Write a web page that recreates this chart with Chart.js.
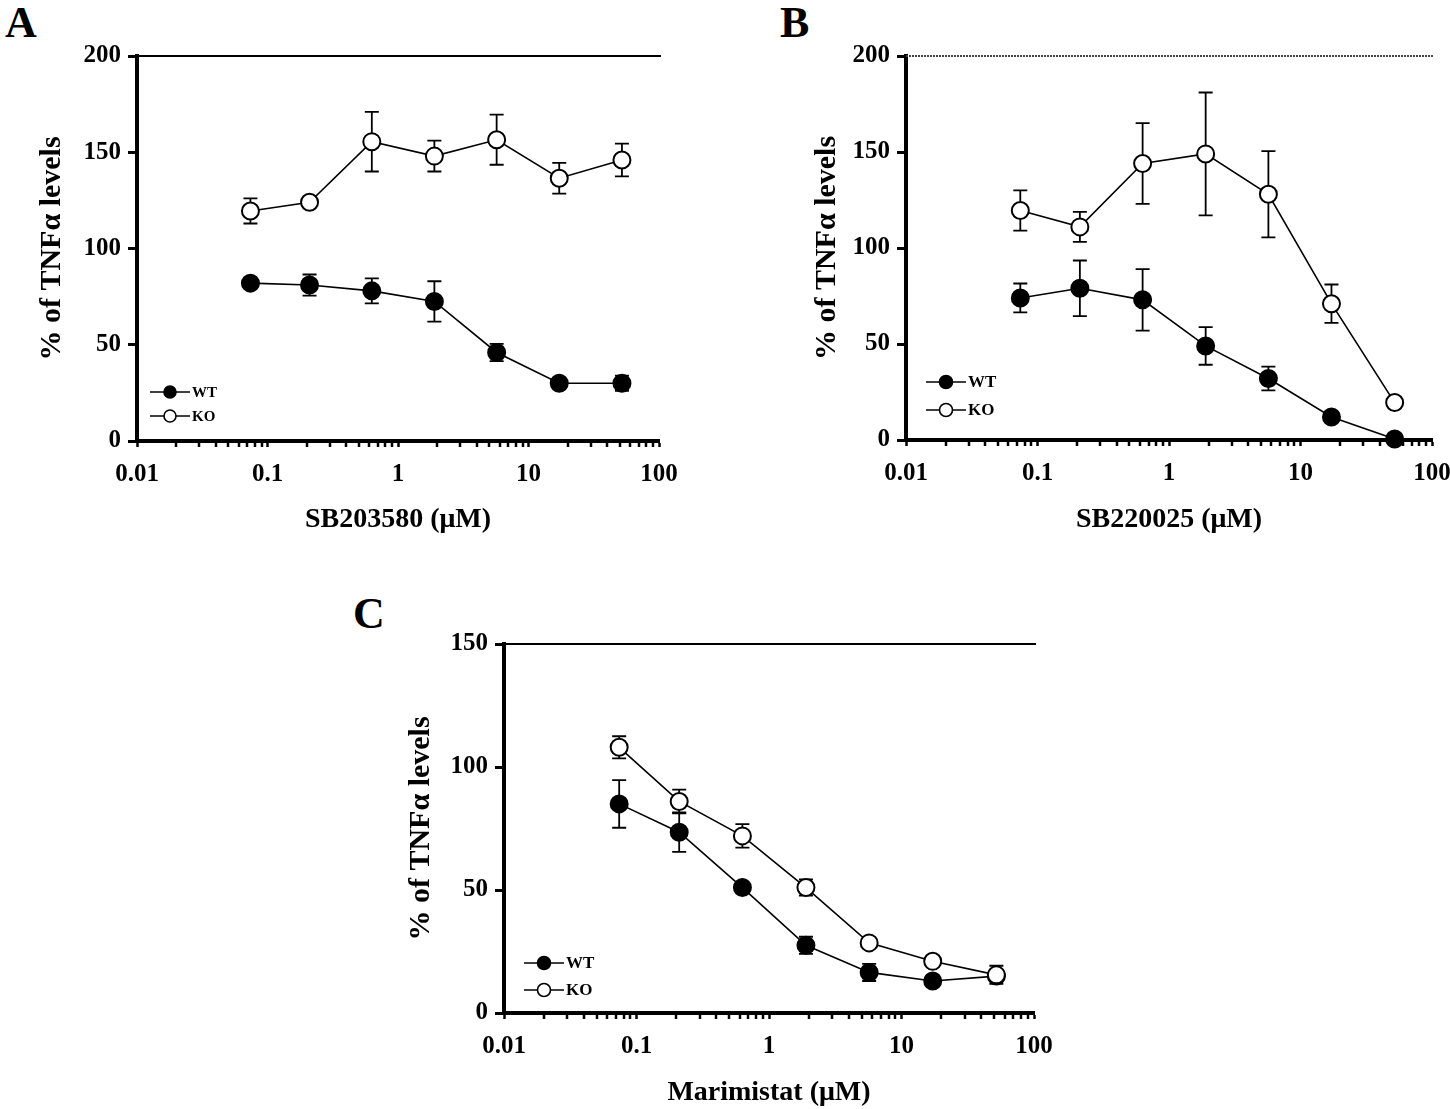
<!DOCTYPE html>
<html>
<head>
<meta charset="utf-8">
<script src="https://cdn.jsdelivr.net/npm/chart.js@4.4.1/dist/chart.umd.min.js"></script>
<style>
  html, body { margin: 0; padding: 0; background: #fff; }
  body { width: 1450px; height: 1109px; position: relative; overflow: hidden; }
  canvas { position: absolute; }
  .letter { position: absolute; font: bold 44px "Liberation Serif", serif; line-height: 1; }
</style>
</head>
<body>
<div class="letter" style="left:5px;top:1px">A</div>
<div class="letter" style="left:780px;top:1px">B</div>
<div class="letter" style="left:353px;top:592px">C</div>
<canvas id="panel-a"></canvas>
<canvas id="panel-b"></canvas>
<canvas id="panel-c"></canvas>
<script>
/* global Chart */

// Inhibitor doses (µM), same dilution series in all three panels.
const DOSES = [0.074, 0.21, 0.63, 1.9, 5.7, 17.2, 52];

const X_TICKS = [0.01, 0.1, 1, 10, 100];
const Y_TICKS_AB = [0, 50, 100, 150, 200];
const Y_TICKS_C = [0, 50, 100, 150];

// Panel A: SB203580
const WT_A = [82, 81, 78, 72.5, 46, 30, 30];
const WT_A_ERR = [2, 5.5, 6.5, 10.5, 4.5, 2, 4];
const KO_A = [119.5, 124, 155.5, 148, 156.5, 136.5, 146];
const KO_A_ERR = [6.5, 2, 15.5, 8, 13, 8, 8.5];

// Panel B: SB220025
const WT_B = [74, 79, 73, 49, 32, 12, 0.5];
const WT_B_ERR = [7.5, 14.5, 16, 9.8, 6.2, 1.5, 0];
const KO_B = [119.5, 111, 144, 149, 128, 71, 19.5];
const KO_B_ERR = [10.5, 7.8, 21, 32, 22.5, 10, 1.5];

// Panel C: Marimistat
const WT_C = [85, 73.5, 51, 27.5, 16.5, 13, 15];
const WT_C_ERR = [9.7, 8, 1.5, 3.5, 3.5, 1.5, 2];
const KO_C = [108, 86, 72, 51, 28.5, 21, 15.5];
const KO_C_ERR = [4.5, 4.8, 4.8, 3.3, 1.5, 1.5, 3.7];

const SERIF = '"Liberation Serif", "Times New Roman", serif';
const TICK_SIZE = 25;
const X_TITLE_SIZE = 28;
const Y_TITLE_SIZE = 30;
const CAP = 7;

function toPoints(values) {
  return DOSES.map((dose, i) => ({ x: dose, y: values[i] }));
}

// Error bars go under the markers, like the original figure.
const errorBars = {
  id: "errorBars",
  beforeDatasetsDraw(chart) {
    const { ctx } = chart;
    const xs = chart.scales.x;
    const ys = chart.scales.y;
    ctx.save();
    ctx.strokeStyle = "#000";
    ctx.lineWidth = 1.8;
    chart.data.datasets.forEach((ds) => {
      ds.data.forEach((pt, i) => {
        const err = ds.errors[i];
        if (!err) return;
        const px = xs.getPixelForValue(pt.x);
        const top = ys.getPixelForValue(pt.y + err);
        const bot = ys.getPixelForValue(pt.y - err);
        ctx.beginPath();
        ctx.moveTo(px, top);
        ctx.lineTo(px, bot);
        ctx.moveTo(px - CAP, top);
        ctx.lineTo(px + CAP, top);
        ctx.moveTo(px - CAP, bot);
        ctx.lineTo(px + CAP, bot);
        ctx.stroke();
      });
    });
    ctx.restore();
  },
};

// Top reference line at the y max and the minor log ticks under the x axis.
const axisExtras = {
  id: "axisExtras",
  afterDraw(chart, args, opts) {
    const { ctx, chartArea } = chart;
    const xs = chart.scales.x;
    const ys = chart.scales.y;
    ctx.save();
    ctx.strokeStyle = opts.topColor || "#000";
    ctx.lineWidth = 2;
    if (opts.topDash) ctx.setLineDash(opts.topDash);
    const yTop = ys.getPixelForValue(ys.max);
    ctx.beginPath();
    ctx.moveTo(chartArea.left, yTop);
    ctx.lineTo(chartArea.right + 2, yTop);
    ctx.stroke();
    ctx.setLineDash([]);

    ctx.strokeStyle = "#000";
    ctx.lineWidth = 2.5;
    ctx.beginPath();
    X_TICKS.slice(0, -1).forEach((decade) => {
      for (let k = 2; k <= 9; k++) {
        const px = Math.round(xs.getPixelForValue(k * decade));
        ctx.moveTo(px, chartArea.bottom);
        ctx.lineTo(px, chartArea.bottom + 6);
      }
    });
    ctx.stroke();
    ctx.restore();
  },
};

// Small in-plot key: line through a marker, then the label.
const keyLegend = {
  id: "keyLegend",
  afterDraw(chart, args, opts) {
    const { ctx, chartArea } = chart;
    ctx.save();
    ctx.font = `bold ${opts.fontSize}px ${SERIF}`;
    ctx.textBaseline = "middle";
    ctx.fillStyle = "#000";
    opts.items.forEach((item) => {
      const x0 = chartArea.left + opts.x0;
      const x1 = x0 + opts.len;
      const y = chartArea.bottom - item.dy;
      const cx = (x0 + x1) / 2;
      ctx.strokeStyle = "#000";
      ctx.lineWidth = 1.6;
      ctx.beginPath();
      ctx.moveTo(x0, y);
      ctx.lineTo(x1, y);
      ctx.stroke();
      ctx.beginPath();
      ctx.arc(cx, y, opts.r, 0, Math.PI * 2);
      ctx.fillStyle = item.fill;
      ctx.fill();
      ctx.lineWidth = 1.6;
      ctx.stroke();
      ctx.fillStyle = "#000";
      ctx.fillText(item.label, x1 + 2, y + 1);
    });
    ctx.restore();
  },
};

function makePanel(id, cfg) {
  const canvas = document.getElementById(id);
  const { box, area } = cfg;
  canvas.width = box.w;
  canvas.height = box.h;
  canvas.style.left = box.x + "px";
  canvas.style.top = box.y + "px";
  canvas.style.width = box.w + "px";
  canvas.style.height = box.h + "px";

  const xTitleLH = X_TITLE_SIZE * 1.2;
  const yTitleLH = Y_TITLE_SIZE * 1.2;
  const padding = {
    left: cfg.yTitleX - box.x - yTitleLH / 2,
    top: area.top - box.y,
    right: box.x + box.w - area.right,
    bottom: box.y + box.h - (cfg.xTitleY + xTitleLH / 2),
  };
  const yWidth = area.left - box.x - padding.left;
  const xHeight = cfg.xTitleY + xTitleLH / 2 - area.bottom;

  const lineStyle = {
    showLine: true,
    borderColor: "#000",
    borderWidth: 1.6,
    tension: 0,
    pointRadius: 8.5,
    pointHoverRadius: 8.5,
    pointBorderWidth: 2,
    pointBorderColor: "#000",
    clip: false,
  };

  return new Chart(canvas, {
    type: "scatter",
    data: {
      datasets: [
        { ...lineStyle, label: "KO", data: toPoints(cfg.ko), errors: cfg.koErr, pointBackgroundColor: "#fff" },
        { ...lineStyle, label: "WT", data: toPoints(cfg.wt), errors: cfg.wtErr, pointBackgroundColor: "#000" },
      ],
    },
    options: {
      responsive: false,
      animation: false,
      events: [],
      layout: { padding },
      scales: {
        x: {
          type: "logarithmic",
          min: 0.01,
          max: 100,
          afterBuildTicks: (scale) => {
            scale.ticks = X_TICKS.map((value) => ({ value }));
          },
          afterFit: (scale) => {
            scale.height = xHeight;
            scale.paddingLeft = 0;
            scale.paddingRight = 0;
          },
          border: { display: true, width: 4, color: "#000" },
          grid: { drawOnChartArea: false, drawTicks: true, tickLength: 6, tickWidth: 2.5, tickColor: "#000", color: "#000" },
          ticks: {
            autoSkip: false,
            maxRotation: 0,
            padding: 13,
            color: "#000",
            font: { family: SERIF, size: TICK_SIZE, weight: "bold" },
            callback: (value) => String(value),
          },
          title: {
            display: true,
            text: cfg.xTitle,
            color: "#000",
            padding: 0,
            font: { family: SERIF, size: X_TITLE_SIZE, weight: "bold" },
          },
        },
        y: {
          type: "linear",
          min: 0,
          max: cfg.yTicks[cfg.yTicks.length - 1],
          afterBuildTicks: (scale) => {
            scale.ticks = cfg.yTicks.map((value) => ({ value }));
          },
          afterFit: (scale) => {
            scale.width = yWidth;
            scale.paddingTop = 0;
            scale.paddingBottom = 0;
          },
          border: { display: true, width: 4, color: "#000" },
          grid: { drawOnChartArea: false, drawTicks: true, tickLength: 9, tickWidth: 3, tickColor: "#000", color: "#000" },
          ticks: {
            padding: 7,
            color: "#000",
            font: { family: SERIF, size: TICK_SIZE, weight: "bold" },
          },
          title: {
            display: true,
            text: "% of TNFα levels",
            color: "#000",
            padding: 0,
            font: { family: SERIF, size: Y_TITLE_SIZE, weight: "bold" },
          },
        },
      },
      plugins: {
        legend: { display: false },
        tooltip: { enabled: false },
        axisExtras: cfg.top,
        keyLegend: {
          ...cfg.key,
          items: [
            { label: "WT", fill: "#000", dy: cfg.key.dyWT },
            { label: "KO", fill: "#fff", dy: cfg.key.dyKO },
          ],
        },
      },
    },
    plugins: [errorBars, axisExtras, keyLegend],
  });
}

makePanel("panel-a", {
  box: { x: 0, y: 30, w: 700, h: 525 },
  area: { left: 137, right: 659, top: 56, bottom: 441 },
  yTitleX: 52,
  xTitleY: 520,
  xTitle: "SB203580 (μM)",
  yTicks: Y_TICKS_AB,
  wt: WT_A, wtErr: WT_A_ERR, ko: KO_A, koErr: KO_A_ERR,
  top: { topColor: "#000" },
  key: { x0: 13, len: 40, r: 6, fontSize: 15, dyWT: 49, dyKO: 25 },
});

makePanel("panel-b", {
  box: { x: 720, y: 30, w: 730, h: 525 },
  area: { left: 906, right: 1432, top: 56, bottom: 440 },
  yTitleX: 827,
  xTitleY: 520,
  xTitle: "SB220025 (μM)",
  yTicks: Y_TICKS_AB,
  wt: WT_B, wtErr: WT_B_ERR, ko: KO_B, koErr: KO_B_ERR,
  top: { topColor: "#444", topDash: [2, 1] },
  key: { x0: 20, len: 40, r: 6.5, fontSize: 17, dyWT: 58, dyKO: 30 },
});

makePanel("panel-c", {
  box: { x: 340, y: 620, w: 720, h: 489 },
  area: { left: 504, right: 1034, top: 644, bottom: 1013 },
  yTitleX: 421,
  xTitleY: 1093,
  xTitle: "Marimistat (μM)",
  yTicks: Y_TICKS_C,
  wt: WT_C, wtErr: WT_C_ERR, ko: KO_C, koErr: KO_C_ERR,
  top: { topColor: "#000" },
  key: { x0: 20, len: 40, r: 6.5, fontSize: 17, dyWT: 50, dyKO: 23 },
});
</script>
</body>
</html>
